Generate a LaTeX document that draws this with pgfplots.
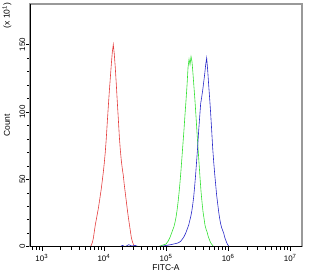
\documentclass[border=0pt]{standalone}
\usepackage{fontspec}
\setmainfont{Liberation Sans}
\usepackage{pgfplots}
\pgfplotsset{compat=1.18}
\definecolor{cred}{RGB}{228,60,60}
\definecolor{cgreen}{RGB}{50,225,50}
\definecolor{cblue}{RGB}{40,40,200}
\begin{document}
\begin{tikzpicture}
\useasboundingbox (-30bp,-28.3bp) rectangle (284bp,246.7bp);
\begin{axis}[
  at={(0,0)}, anchor=south west,
  scale only axis, width=272bp, height=242.7bp,
  xmin=2.81, xmax=7.19, ymin=0, ymax=180,
  xtick={3,4,5,6,7},
  xticklabels={10\textsuperscript{3},10\textsuperscript{4},10\textsuperscript{5},10\textsuperscript{6},10\textsuperscript{7}},
  minor xtick={2.845,2.903,2.954,
    3.301,3.477,3.602,3.699,3.778,3.845,3.903,3.954,
    4.301,4.477,4.602,4.699,4.778,4.845,4.903,4.954,
    5.301,5.477,5.602,5.699,5.778,5.845,5.903,5.954,
    6.301,6.477,6.602,6.699,6.778,6.845,6.903,6.954},
  ytick={0,50,100,150}, minor y tick num=4,
  /pgf/number format/assume math mode=true,
  tick align=outside, xtick pos=bottom, ytick pos=left,
  major tick length=4bp, minor tick length=3bp,
  every tick/.style={black, line width=0.5pt},
  axis line style={gray!80, line width=1.1pt},
  ticklabel style={font=\fontsize{8}{9}\selectfont},
  yticklabel style={rotate=90, anchor=south, inner sep=0.5pt},
  xlabel={FITC-A}, ylabel={Count},
  label style={font=\fontsize{8.5}{9}\selectfont},
  xlabel style={at={(axis description cs:0.5,-0.0878)}, anchor=center},
  ylabel style={at={(axis description cs:-0.0846,0.5)}, anchor=center},
  clip=false,
]
% red
\addplot[cred, line width=0.6pt] coordinates {
(3.781,0) (3.797,1) (3.813,3) (3.829,6) (3.845,11) (3.861,16) (3.877,20) (3.893,24)
(3.909,28) (3.926,33) (3.942,38) (3.958,43) (3.974,49) (3.990,55) (4.006,62) (4.022,70)
(4.038,80) (4.054,92) (4.071,104) (4.087,115) (4.103,125) (4.119,135) (4.135,144) (4.151,150)
(4.167,143) (4.183,133) (4.199,121) (4.215,108) (4.232,95) (4.248,82) (4.264,72) (4.280,64)
(4.296,58) (4.312,53) (4.328,46) (4.344,40) (4.360,34) (4.376,28) (4.393,22) (4.409,17)
(4.425,12) (4.441,7) (4.457,4) (4.473,2) (4.489,0.5) (4.505,0)
};
% green
\addplot[cgreen, line width=0.6pt] coordinates {
(4.856,0) (4.904,0.5) (4.936,1) (4.968,1.5) (5.001,2) (5.017,3) (5.033,4) (5.049,5.5)
(5.065,7) (5.081,9) (5.097,11) (5.113,13) (5.129,15) (5.145,18) (5.162,22) (5.178,27)
(5.194,33) (5.210,40) (5.226,48) (5.242,57) (5.258,67) (5.274,77) (5.290,87) (5.306,98)
(5.323,109) (5.339,120) (5.355,133) (5.371,139) (5.387,135) (5.403,141)
(5.419,137) (5.435,128) (5.451,118) (5.467,108) (5.484,96) (5.500,84) (5.516,73) (5.532,62)
(5.548,51) (5.564,41) (5.580,33) (5.596,26) (5.612,21) (5.628,16) (5.645,13) (5.661,11)
(5.677,8) (5.693,6) (5.709,4) (5.725,2.5) (5.741,1.5) (5.757,0.5) (5.773,0)
};
% blue
\addplot[cblue, line width=0.6pt] coordinates {
(4.26,0) (4.30,1) (4.34,0) (4.40,1.5) (4.45,0.5) (4.50,1) (4.56,0)
(4.882,0) (4.947,0.5) (5.011,1) (5.075,1.5) (5.124,2) (5.172,2.5) (5.204,3) (5.236,4)
(5.253,5) (5.269,6) (5.285,7) (5.301,8.5) (5.317,10) (5.333,12) (5.349,14) (5.365,16)
(5.381,19) (5.397,22) (5.414,26) (5.430,31) (5.446,37) (5.462,45) (5.478,54) (5.494,64)
(5.510,74) (5.526,86) (5.542,96) (5.558,106) (5.575,111) (5.591,116) (5.607,122) (5.623,128)
(5.639,135) (5.655,140)
(5.671,131) (5.687,120) (5.703,110) (5.719,99) (5.736,86) (5.752,73) (5.768,63) (5.784,54)
(5.800,46) (5.816,38) (5.832,32) (5.848,26) (5.864,21) (5.880,17) (5.897,14) (5.913,12)
(5.929,10) (5.945,7) (5.961,5) (5.977,3) (5.993,1.5) (6.009,0.5) (6.025,0)
};
\draw[black, line width=0.7pt] (rel axis cs:0,1) -- (rel axis cs:0,0) -- (rel axis cs:1,0);
\node[rotate=90, font=\fontsize{8.5}{9}\selectfont] at (axis description cs:-0.0846,0.952) {(x 10\textsuperscript{1})};
\end{axis}
\end{tikzpicture}
\end{document}
